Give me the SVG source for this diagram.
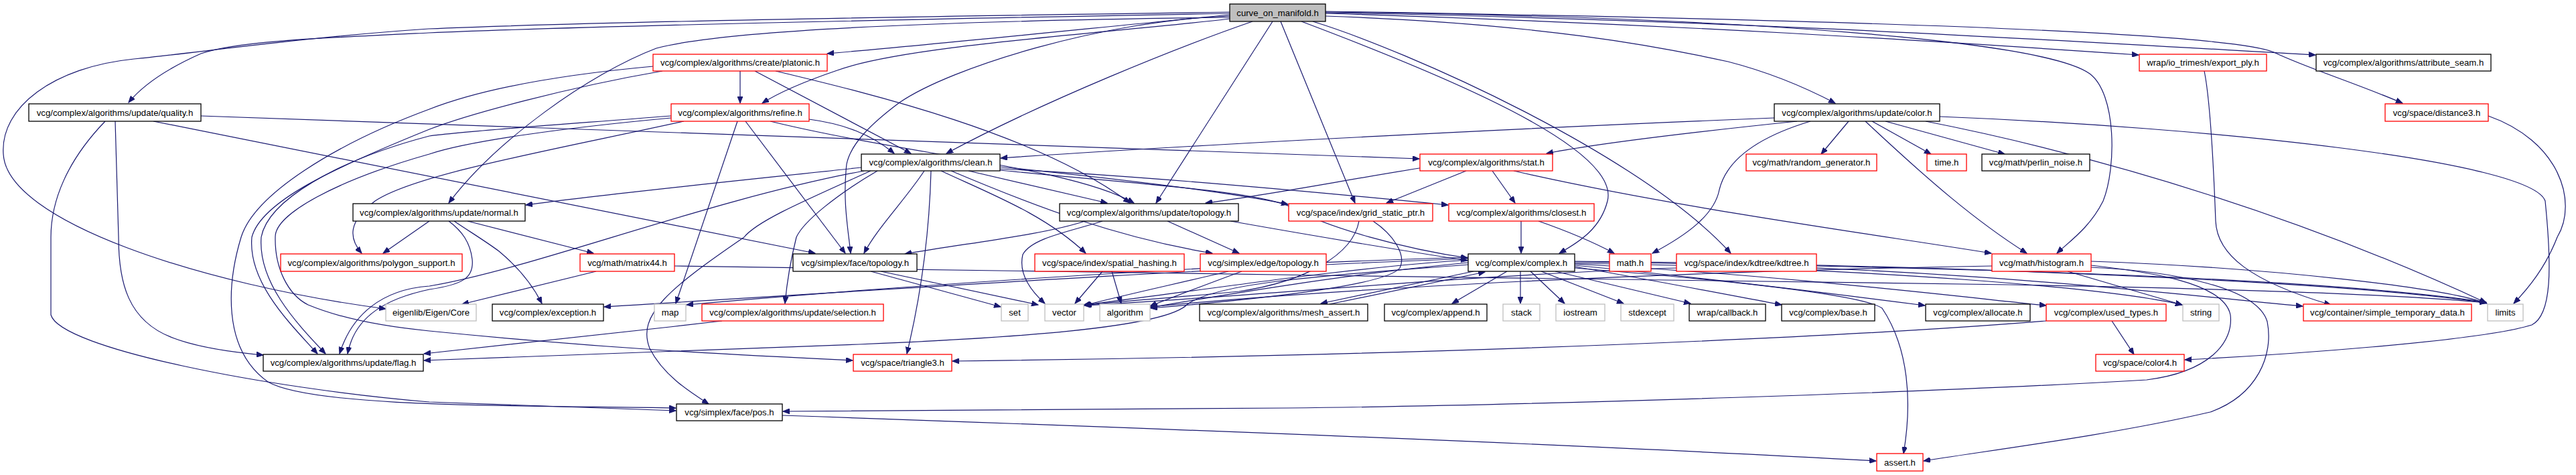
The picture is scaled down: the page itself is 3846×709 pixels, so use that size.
<svg xmlns="http://www.w3.org/2000/svg" width="3846" height="709" viewBox="0 0 3846 709">
<defs>
<marker id="ah" markerWidth="11" markerHeight="8" refX="10" refY="4" orient="auto" markerUnits="userSpaceOnUse"><path d="M0,0 L10,4 L0,8 z" fill="#191970" stroke="#191970" stroke-width="1"/></marker>
<style>
.n rect{fill:#fff;stroke:#000;stroke-width:1.3}
.r rect{stroke:#ff0000}
.g rect{stroke:#bfbfbf}
.root rect{fill:#bfbfbf}
.n text{font-family:"Liberation Sans",Arial,sans-serif;font-size:13.2px;fill:#000;text-anchor:middle}
#edges path{fill:none;stroke:#191970;stroke-width:1.2;marker-end:url(#ah)}
</style>
</defs>
<rect width="3846" height="709" fill="#fff"/>
<g id="edges">
<path d="M1836,20 C1400,28 900,38 640,49 C470,57 350,62 300,80 C255,100 215,125 192,153"/>
<path d="M1836,18 C1400,24 900,32 640,43 C460,55 300,78 200,88 C80,100 0,160 5,230 C10,330 300,425 576,461"/>
<path d="M1836,22 C1600,45 1400,66 1235,80"/>
<path d="M1836,28 C1650,50 1350,68 1250,105 C1200,122 1160,140 1138,154"/>
<path d="M1836,26 C1500,30 1100,40 980,72 C880,110 740,210 670,303"/>
<path d="M1870,32 C1760,70 1560,150 1413,229"/>
<path d="M1900,32 L1726,303"/>
<path d="M1912,32 L2023,303"/>
<path d="M1943,32 C2150,110 2420,220 2400,300 C2390,340 2360,360 2328,378"/>
<path d="M1960,32 C2100,75 2450,230 2584,378"/>
<path d="M1979,24 C2300,35 2480,70 2580,92 C2650,110 2700,133 2740,154"/>
<path d="M1979,18 C2600,25 3050,60 3120,110 C3160,140 3160,250 3140,300 C3120,340 3090,360 3071,378"/>
<path d="M1979,20 C2500,36 2900,62 3193,82"/>
<path d="M1979,19 C2600,30 3100,62 3457,82"/>
<path d="M1979,17 C2800,30 3330,50 3395,78 C3440,100 3520,125 3587,154"/>
<path d="M1836,24 C1650,30 1420,100 1343,153 C1300,185 1270,215 1264,245 C1258,300 1266,340 1270,378"/>
<path d="M1105,106 L1105,154"/>
<path d="M1127,106 L1360,229"/>
<path d="M1158,106 C1300,140 1550,200 1687,303"/>
<path d="M975,99 C800,115 700,140 641,163 C500,215 380,290 360,354 C340,420 330,520 400,570 C470,610 800,605 1009,609"/>
<path d="M989,106 C850,130 700,170 641,193 C500,250 390,300 376,354 C370,420 430,480 474,528"/>
<path d="M1002,173 C850,185 700,195 641,203 C500,240 400,300 390,354 C385,420 440,480 486,528"/>
<path d="M1002,176 C850,190 700,210 641,230 C500,270 410,320 411,354 C410,400 430,440 460,455 C520,480 600,490 641,494 C900,520 1100,530 1273,538"/>
<path d="M1021,181 C820,225 620,260 560,300 C520,330 520,355 540,378"/>
<path d="M1101,181 L1009,453"/>
<path d="M1113,181 L1262,378"/>
<path d="M1208,178 C1260,185 1300,200 1335,229"/>
<path d="M1150,181 C1350,230 1600,250 1693,303"/>
<path d="M157,181 C100,240 76,300 76,354 L76,470 C90,520 400,580 641,600 C800,605 950,610 1009,613"/>
<path d="M172,181 L177,354 C177,420 190,480 260,505 C300,520 360,527 393,530"/>
<path d="M300,173 L2119,237"/>
<path d="M229,181 L1217,378"/>
<path d="M641,330 L572,378"/>
<path d="M678,330 C700,345 725,360 745,375 C775,400 795,425 809,453"/>
<path d="M698,330 L886,378"/>
<path d="M670,330 C690,345 702,362 705,387 C708,415 690,425 641,432 C580,445 530,470 519,528"/>
<path d="M1286,250 C1100,270 900,290 785,306"/>
<path d="M1290,255 C1050,300 800,400 641,427 C570,432 525,470 507,528"/>
<path d="M1380,255 C1350,300 1310,340 1290,378"/>
<path d="M1390,255 C1388,330 1380,420 1354,528"/>
<path d="M1446,255 L1653,303"/>
<path d="M1405,255 C1480,290 1560,320 1621,378"/>
<path d="M1420,255 C1550,310 1670,355 1810,378"/>
<path d="M1493,249 C1700,270 1850,290 1923,305"/>
<path d="M1493,252 C1700,262 1950,285 2162,306"/>
<path d="M1493,254 C1700,275 1880,285 1930,310 C1980,340 2100,372 2191,385"/>
<path d="M1300,255 C1200,300 1130,330 1111,354 C1000,430 950,470 970,520 C990,560 1030,585 1058,603"/>
<path d="M1310,255 C1250,290 1200,330 1189,354 C1180,390 1175,420 1172,453"/>
<path d="M1620,330 C1560,350 1450,362 1351,379"/>
<path d="M1646,330 C1600,345 1540,355 1527,380 C1520,410 1540,435 1560,453"/>
<path d="M1743,330 L1850,378"/>
<path d="M1837,330 C1950,350 2100,375 2191,389"/>
<path d="M1646,405 L1605,453"/>
<path d="M1660,405 L1674,453"/>
<path d="M1834,405 C1750,425 1680,440 1618,456"/>
<path d="M1854,405 C1800,425 1760,440 1717,457"/>
<path d="M2200,405 L1972,453"/>
<path d="M1985,454 L2217,406"/>
<path d="M2250,405 L2168,453"/>
<path d="M2270,405 L2270,453"/>
<path d="M2285,405 L2336,453"/>
<path d="M2301,405 L2424,453"/>
<path d="M2322,405 L2524,453"/>
<path d="M2351,398 C2450,415 2580,440 2660,455"/>
<path d="M2351,396 C2550,415 2750,440 2874,456"/>
<path d="M2351,394 C2650,410 2900,440 3055,456"/>
<path d="M2351,393 C2800,400 3150,430 3258,455"/>
<path d="M2351,391 C2900,395 3250,440 3438,457"/>
<path d="M2351,390 C2900,395 3500,420 3712,452"/>
<path d="M2192,388 C2000,400 1750,440 1618,455"/>
<path d="M2192,392 C2000,410 1800,445 1717,459"/>
<path d="M2192,386 C1800,400 1200,440 902,458"/>
<path d="M2192,384 C1800,395 1300,430 1025,455"/>
<path d="M2351,400 C2600,420 2780,440 2810,460 C2850,520 2855,600 2842,677"/>
<path d="M2029,330 C2020,380 1950,420 1850,435 C1750,445 1660,450 1620,456"/>
<path d="M2050,330 C2080,350 2100,380 2090,400 C2070,425 1900,445 1718,460"/>
<path d="M2189,255 L2070,303"/>
<path d="M2228,255 L2262,303"/>
<path d="M2125,250 C2000,270 1900,290 1800,303"/>
<path d="M2260,255 C2500,310 2800,350 2973,378"/>
<path d="M2271,330 L2271,378"/>
<path d="M2297,330 C2340,345 2380,362 2410,378"/>
<path d="M2760,181 L2719,230"/>
<path d="M2795,181 L2883,230"/>
<path d="M2815,181 L2993,230"/>
<path d="M2683,181 C2500,200 2380,215 2309,229"/>
<path d="M2649,176 C2300,190 1800,215 1494,236"/>
<path d="M2703,181 C2640,200 2580,230 2567,283 C2560,320 2520,350 2467,378"/>
<path d="M2785,181 C2880,270 2950,330 3026,378"/>
<path d="M2875,181 C3150,235 3450,330 3712,452"/>
<path d="M2896,174 C3300,190 3780,240 3800,300 C3810,400 3810,470 3780,485 C3700,510 3400,530 3262,537"/>
<path d="M3715,173 C3820,210 3850,300 3818,354 C3800,400 3775,430 3753,453"/>
<path d="M3291,106 C3300,150 3305,250 3308,330 C3310,380 3360,420 3480,455"/>
<path d="M3122,390 C3400,400 3650,430 3713,453"/>
<path d="M3087,405 L3258,455"/>
<path d="M3122,396 C3200,405 3320,420 3330,470 C3335,510 3300,555 3205,567 C2900,585 2300,605 1923,609 C1600,611 1300,612 1169,614"/>
<path d="M3122,399 C3250,405 3370,430 3385,480 C3395,530 3370,590 3300,615 C3150,650 2950,675 2872,688"/>
<path d="M2503,400 C2200,410 1900,440 1619,456"/>
<path d="M2712,397 C3100,405 3500,420 3712,451"/>
<path d="M2974,397 C2500,405 2000,430 1718,458"/>
<path d="M3153,479 L3186,529"/>
<path d="M3055,479 C2800,500 2200,530 1422,539"/>
<path d="M2192,395 C2000,410 1820,420 1773,454 C1740,490 1500,505 1282,514 C1000,525 750,532 633,538"/>
<path d="M1078,479 C900,500 700,520 633,528"/>
<path d="M890,405 L690,454"/>
<path d="M1007,397 C1500,405 2500,418 3000,425 C3300,430 3600,440 3712,452"/>
<path d="M1300,405 L1494,458"/>
<path d="M1315,405 L1550,455"/>
<path d="M1168,620 C1600,635 2300,660 2801,688"/>
</g>
<g id="n0" class="n root"><rect x="1836" y="6" width="143" height="26"/><text x="1907.5" y="23.5">curve_on_manifold.h</text></g>
<g id="n1" class="n r"><rect x="975" y="81" width="260" height="25"/><text x="1105" y="98">vcg/complex/algorithms/create/platonic.h</text></g>
<g id="n2" class="n r"><rect x="3194" y="81" width="190" height="25"/><text x="3289" y="98">wrap/io_trimesh/export_ply.h</text></g>
<g id="n3" class="n"><rect x="3458" y="81" width="261" height="25"/><text x="3588.5" y="98">vcg/complex/algorithms/attribute_seam.h</text></g>
<g id="n4" class="n"><rect x="43" y="155" width="257" height="26"/><text x="171.5" y="172.5">vcg/complex/algorithms/update/quality.h</text></g>
<g id="n5" class="n r"><rect x="1002" y="155" width="206" height="26"/><text x="1105" y="172.5">vcg/complex/algorithms/refine.h</text></g>
<g id="n6" class="n"><rect x="2649" y="155" width="247" height="26"/><text x="2772.5" y="172.5">vcg/complex/algorithms/update/color.h</text></g>
<g id="n7" class="n r"><rect x="3561" y="155" width="154" height="26"/><text x="3638" y="172.5">vcg/space/distance3.h</text></g>
<g id="n8" class="n"><rect x="1286" y="230" width="207" height="25"/><text x="1389.5" y="247">vcg/complex/algorithms/clean.h</text></g>
<g id="n9" class="n r"><rect x="2120" y="230" width="198" height="25"/><text x="2219" y="247">vcg/complex/algorithms/stat.h</text></g>
<g id="n10" class="n r"><rect x="2607" y="230" width="195" height="25"/><text x="2704.5" y="247">vcg/math/random_generator.h</text></g>
<g id="n11" class="n r"><rect x="2877" y="230" width="59" height="25"/><text x="2906.5" y="247">time.h</text></g>
<g id="n12" class="n"><rect x="2959" y="230" width="161" height="25"/><text x="3039.5" y="247">vcg/math/perlin_noise.h</text></g>
<g id="n13" class="n"><rect x="527" y="304" width="257" height="26"/><text x="655.5" y="321.5">vcg/complex/algorithms/update/normal.h</text></g>
<g id="n14" class="n"><rect x="1582" y="304" width="267" height="26"/><text x="1715.5" y="321.5">vcg/complex/algorithms/update/topology.h</text></g>
<g id="n15" class="n r"><rect x="1924" y="304" width="215" height="26"/><text x="2031.5" y="321.5">vcg/space/index/grid_static_ptr.h</text></g>
<g id="n16" class="n r"><rect x="2163" y="304" width="217" height="26"/><text x="2271.5" y="321.5">vcg/complex/algorithms/closest.h</text></g>
<g id="n17" class="n r"><rect x="419" y="379" width="271" height="26"/><text x="554.5" y="396.5">vcg/complex/algorithms/polygon_support.h</text></g>
<g id="n18" class="n r"><rect x="866" y="379" width="141" height="26"/><text x="936.5" y="396.5">vcg/math/matrix44.h</text></g>
<g id="n19" class="n"><rect x="1184" y="379" width="185" height="26"/><text x="1276.5" y="396.5">vcg/simplex/face/topology.h</text></g>
<g id="n20" class="n r"><rect x="1545" y="379" width="223" height="26"/><text x="1656.5" y="396.5">vcg/space/index/spatial_hashing.h</text></g>
<g id="n21" class="n r"><rect x="1792" y="379" width="188" height="26"/><text x="1886" y="396.5">vcg/simplex/edge/topology.h</text></g>
<g id="n22" class="n"><rect x="2192" y="379" width="159" height="26"/><text x="2271.5" y="396.5">vcg/complex/complex.h</text></g>
<g id="n23" class="n r"><rect x="2403" y="379" width="62" height="26"/><text x="2434" y="396.5">math.h</text></g>
<g id="n24" class="n r"><rect x="2503" y="379" width="209" height="26"/><text x="2607.5" y="396.5">vcg/space/index/kdtree/kdtree.h</text></g>
<g id="n25" class="n r"><rect x="2974" y="379" width="148" height="26"/><text x="3048" y="396.5">vcg/math/histogram.h</text></g>
<g id="n26" class="n g"><rect x="576" y="454" width="135" height="25"/><text x="643.5" y="471">eigenlib/Eigen/Core</text></g>
<g id="n27" class="n"><rect x="735" y="454" width="166" height="25"/><text x="818" y="471">vcg/complex/exception.h</text></g>
<g id="n28" class="n g"><rect x="977" y="454" width="47" height="25"/><text x="1000.5" y="471">map</text></g>
<g id="n29" class="n r"><rect x="1048" y="454" width="271" height="25"/><text x="1183.5" y="471">vcg/complex/algorithms/update/selection.h</text></g>
<g id="n30" class="n g"><rect x="1495" y="454" width="40" height="25"/><text x="1515" y="471">set</text></g>
<g id="n31" class="n g"><rect x="1560" y="454" width="58" height="25"/><text x="1589" y="471">vector</text></g>
<g id="n32" class="n g"><rect x="1642" y="454" width="75" height="25"/><text x="1679.5" y="471">algorithm</text></g>
<g id="n33" class="n"><rect x="1791" y="454" width="251" height="25"/><text x="1916.5" y="471">vcg/complex/algorithms/mesh_assert.h</text></g>
<g id="n34" class="n"><rect x="2067" y="454" width="153" height="25"/><text x="2143.5" y="471">vcg/complex/append.h</text></g>
<g id="n35" class="n g"><rect x="2244" y="454" width="55" height="25"/><text x="2271.5" y="471">stack</text></g>
<g id="n36" class="n g"><rect x="2323" y="454" width="73" height="25"/><text x="2359.5" y="471">iostream</text></g>
<g id="n37" class="n g"><rect x="2420" y="454" width="79" height="25"/><text x="2459.5" y="471">stdexcept</text></g>
<g id="n38" class="n"><rect x="2522" y="454" width="114" height="25"/><text x="2579" y="471">wrap/callback.h</text></g>
<g id="n39" class="n"><rect x="2660" y="454" width="139" height="25"/><text x="2729.5" y="471">vcg/complex/base.h</text></g>
<g id="n40" class="n"><rect x="2875" y="454" width="156" height="25"/><text x="2953" y="471">vcg/complex/allocate.h</text></g>
<g id="n41" class="n r"><rect x="3055" y="454" width="179" height="25"/><text x="3144.5" y="471">vcg/complex/used_types.h</text></g>
<g id="n42" class="n g"><rect x="3259" y="454" width="54" height="25"/><text x="3286" y="471">string</text></g>
<g id="n43" class="n r"><rect x="3439" y="454" width="251" height="25"/><text x="3564.5" y="471">vcg/container/simple_temporary_data.h</text></g>
<g id="n44" class="n g"><rect x="3714" y="454" width="53" height="25"/><text x="3740.5" y="471">limits</text></g>
<g id="n45" class="n"><rect x="393" y="529" width="239" height="25"/><text x="512.5" y="546">vcg/complex/algorithms/update/flag.h</text></g>
<g id="n46" class="n r"><rect x="1274" y="529" width="147" height="25"/><text x="1347.5" y="546">vcg/space/triangle3.h</text></g>
<g id="n47" class="n r"><rect x="3129" y="529" width="132" height="25"/><text x="3195" y="546">vcg/space/color4.h</text></g>
<g id="n48" class="n"><rect x="1010" y="603" width="158" height="25"/><text x="1089" y="620">vcg/simplex/face/pos.h</text></g>
<g id="n49" class="n r"><rect x="2802" y="677" width="69" height="26"/><text x="2836.5" y="694.5">assert.h</text></g>
</svg>
